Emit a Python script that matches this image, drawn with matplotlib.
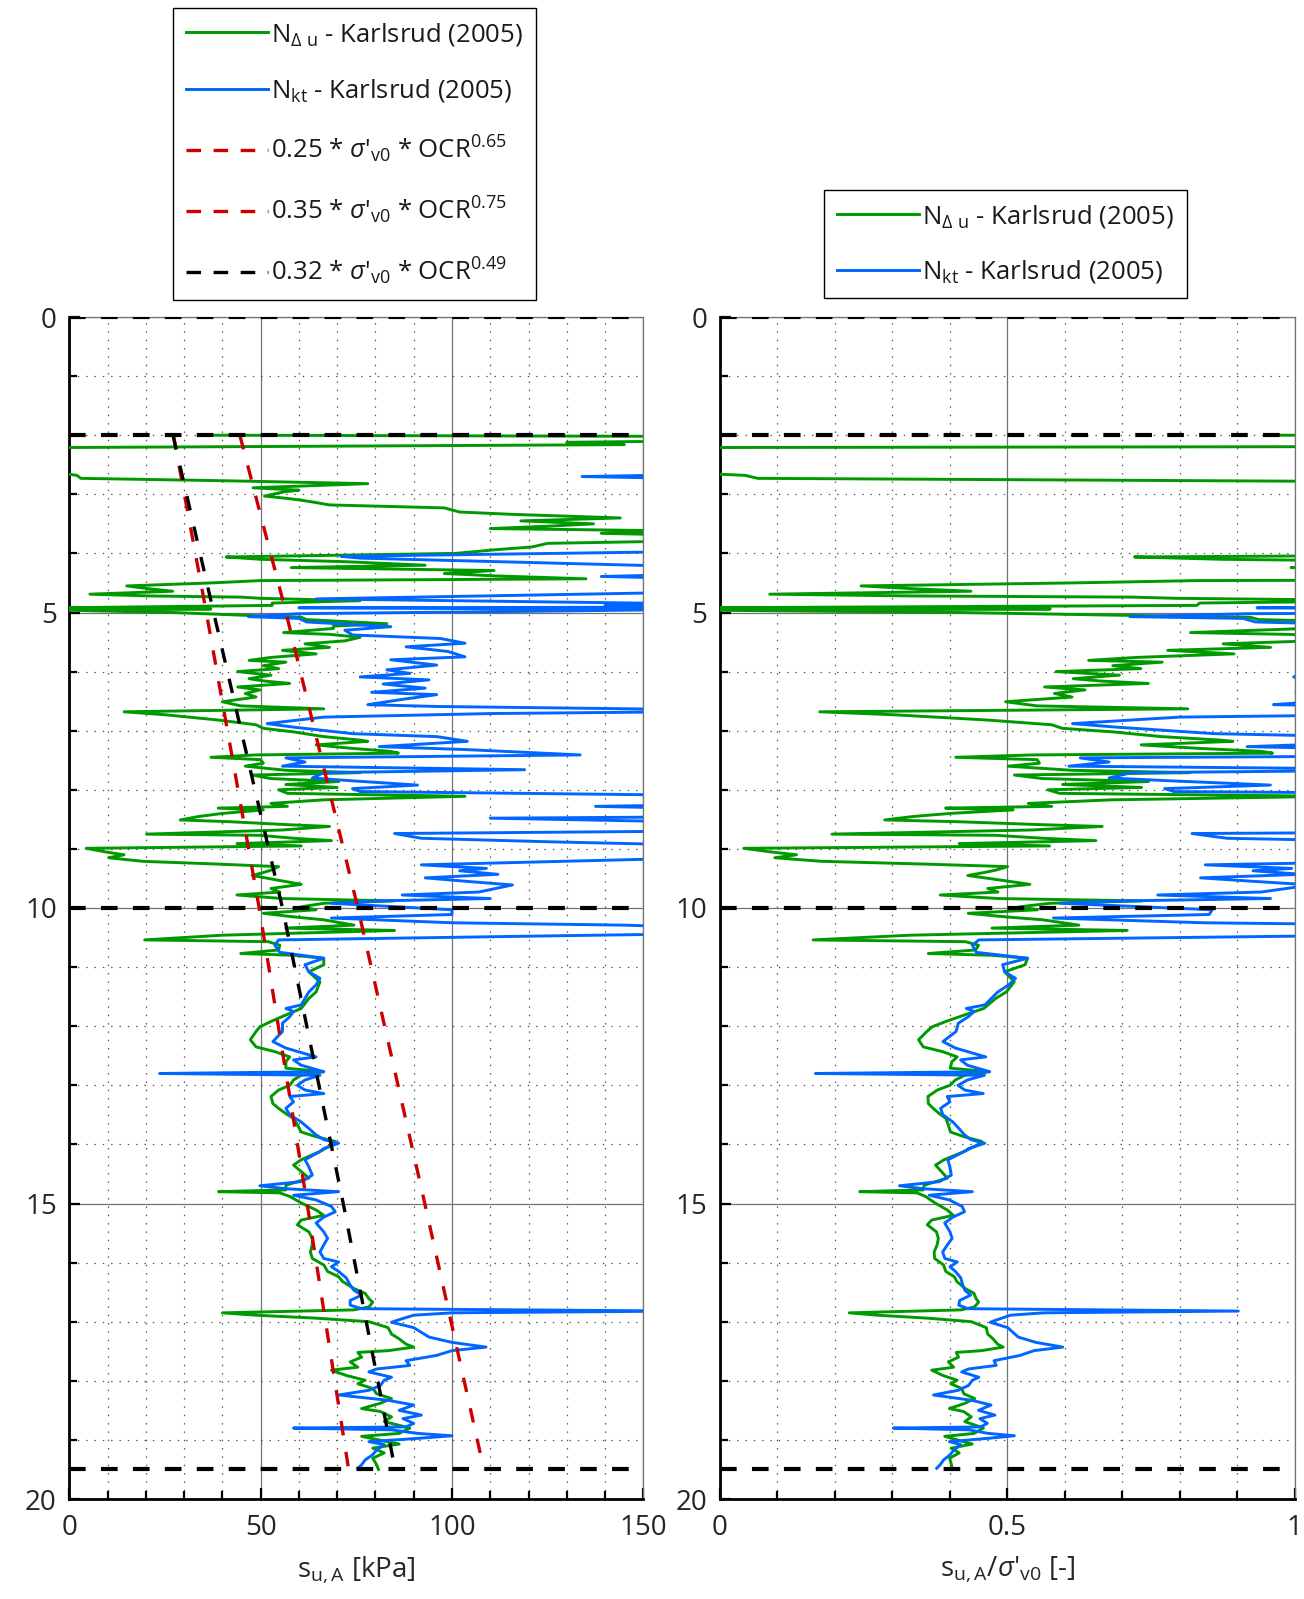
import numpy as np
import matplotlib
matplotlib.use("Agg")
import matplotlib.pyplot as plt
from matplotlib import font_manager
from matplotlib.ticker import MultipleLocator
from matplotlib.lines import Line2D

# ---------------------------------------------------------------- data
# Undrained shear strength from CPTU, N_du correlation (Karlsrud 2005)
depth_du = [2.00, 2.02, 2.10, 2.12, 2.16, 2.21, 2.64, 2.665, 2.68, 2.73, 2.77, 2.82,
            2.89, 2.93, 2.96, 3.03, 3.07, 3.10, 3.14, 3.18, 3.23, 3.30, 3.34, 3.40,
            3.45, 3.50, 3.54, 3.58, 3.62, 3.66, 3.69, 3.79, 3.83, 3.89, 3.94, 4.00,
            4.06, 4.10, 4.14, 4.20, 4.24, 4.29, 4.34, 4.38, 4.43, 4.46, 4.50, 4.55,
            4.60, 4.64, 4.69, 4.72, 4.74, 4.76, 4.80, 4.84, 4.88, 4.92, 4.94, 4.96,
            5.00, 5.05, 5.08, 5.12, 5.19, 5.23, 5.27, 5.34, 5.37, 5.42, 5.48, 5.53,
            5.59, 5.64, 5.70, 5.76, 5.81, 5.84, 5.90, 5.95, 6.00, 6.06, 6.12, 6.16,
            6.20, 6.26, 6.31, 6.37, 6.43, 6.51, 6.58, 6.63, 6.68, 6.73, 6.82, 6.90,
            6.96, 7.02, 7.10, 7.16, 7.18, 7.24, 7.30, 7.35, 7.38, 7.41, 7.45, 7.49,
            7.55, 7.60, 7.67, 7.71, 7.75, 7.81, 7.86, 7.91, 7.96, 8.00, 8.06, 8.11,
            8.17, 8.23, 8.28, 8.31, 8.34, 8.40, 8.45, 8.51, 8.54, 8.59, 8.62, 8.68,
            8.75, 8.77, 8.82, 8.86, 8.91, 8.95, 8.99, 9.05, 9.10, 9.15, 9.21, 9.26,
            9.30, 9.36, 9.40, 9.45, 9.53, 9.60, 9.67, 9.73, 9.78, 9.84, 9.88, 9.92,
            9.98, 10.03, 10.09, 10.15, 10.20, 10.29, 10.34, 10.38, 10.46, 10.54, 10.57, 10.63,
            10.71, 10.77, 10.80, 10.85, 10.96, 11.08, 11.25, 11.42, 11.53, 11.70, 11.81, 11.92,
            12.01, 12.09, 12.23, 12.35, 12.43, 12.52, 12.60, 12.71, 12.77, 12.83, 12.91, 13.00,
            13.08, 13.19, 13.31, 13.39, 13.48, 13.56, 13.67, 13.79, 13.87, 13.95, 14.01, 14.12,
            14.26, 14.35, 14.46, 14.57, 14.69, 14.77, 14.80, 14.82, 14.88, 14.99, 15.11, 15.20,
            15.28, 15.36, 15.48, 15.59, 15.70, 15.82, 15.93, 16.04, 16.15, 16.24, 16.32, 16.44,
            16.52, 16.61, 16.67, 16.75, 16.80, 16.85, 16.89, 16.94, 17.00, 17.06, 17.10, 17.21,
            17.29, 17.38, 17.43, 17.49, 17.52, 17.60, 17.68, 17.77, 17.82, 17.91, 17.99, 18.05,
            18.13, 18.22, 18.30, 18.38, 18.47, 18.52, 18.61, 18.69, 18.80, 18.89, 18.94, 19.02,
            19.07, 19.14, 19.22, 19.31, 19.42, 19.50]
su_du = [38, 160, 160, 130, 145, -5, -5, 0.5, 2, 3, 40, 78,
         48, 60, 56, 51, 57, 60.6, 64.5, 68, 98, 102, 116, 144,
         118, 137, 125, 110, 160, 139, 160, 160, 125, 121, 111, 101,
         41, 50, 72, 93, 58, 111, 98, 111, 135, 50, 37, 15,
         21, 27, 5.4, 21, 45, 50, 76, 53, 53, -2, 37, -2,
         27, 47, 60.6, 62, 83, 69, 69, 56, 68, 76, 72, 61.6,
         68, 55.7, 64.5, 52.7, 47, 56.6, 50.7, 54.7, 44, 52.7, 47, 51,
         57.6, 44, 49.8, 46, 48.8, 40, 44.8, 66.5, 14.3, 25, 39, 48.8,
         50.7, 58.6, 66.5, 76, 78, 64.5, 74, 84, 86, 48.8, 37, 50,
         50.7, 46, 56.6, 76, 47.8, 52.7, 70.4, 56.6, 70, 54.7, 57, 103.4,
         66.5, 52.7, 57, 38.9, 50.7, 40, 34, 29, 42, 57, 68, 55.7,
         20.2, 49.8, 58.6, 68.5, 43.8, 60.6, 4.4, 9.4, 14.3, 10.3, 19.2, 40,
         54.7, 52.7, 50.7, 47.8, 54.7, 60.6, 52.7, 55, 43.8, 55.7, 84.7, 66.5,
         60.6, 64.5, 50.7, 58.6, 66.5, 74.4, 56.6, 85, 40, 19.7, 52, 55,
         54.7, 44.8, 58.6, 66.5, 66.5, 62.6, 65.5, 64.5, 62.6, 60.6, 56.6, 52.7,
         49.8, 48.8, 47.3, 48.8, 53.7, 57.6, 56.6, 56.6, 66.5, 60.6, 58.6, 57.6,
         54.7, 52.7, 53.2, 54.7, 56.6, 58.6, 59.6, 60.6, 64.5, 69.5, 68.5, 65.5,
         60.6, 58.6, 60.6, 62.6, 56.6, 56.6, 39, 55, 57.6, 60.6, 64.5, 66.5,
         60.6, 59.6, 62.6, 63.5, 63.5, 63, 63.5, 66.5, 67.5, 70.4, 71.4, 74.4,
         77.3, 78.3, 79.3, 78.3, 74.4, 40, 48.8, 64.5, 78.3, 81.3, 83.3, 84.2,
         86.2, 88, 90, 83.3, 75.4, 76.4, 73.4, 75.4, 68.5, 72.4, 77.3, 75.4,
         79.3, 80.3, 84.2, 81.3, 76.4, 81.3, 84.2, 82.3, 89, 86.2, 76.4, 82.3,
         86.2, 79.3, 82.3, 79.3, 80.3, 80.8]

# Undrained shear strength from CPTU, N_kt correlation (Karlsrud 2005)
depth_kt = [2.00, 2.67, 2.70, 2.73, 3.97, 4.05, 4.08, 4.22, 4.36, 4.39, 4.42, 4.66,
            4.77, 4.85, 4.88, 4.91, 4.92, 4.95, 4.98, 5.02, 5.07, 5.10, 5.16, 5.24,
            5.30, 5.38, 5.44, 5.52, 5.58, 5.66, 5.75, 5.80, 5.89, 5.97, 6.03, 6.09,
            6.14, 6.21, 6.28, 6.35, 6.39, 6.47, 6.56, 6.59, 6.64, 6.68, 6.71, 6.77,
            6.88, 6.94, 7.05, 7.10, 7.18, 7.27, 7.32, 7.41, 7.46, 7.53, 7.60, 7.66,
            7.71, 7.80, 7.85, 7.92, 7.98, 8.03, 8.09, 8.26, 8.28, 8.31, 8.46, 8.48,
            8.54, 8.70, 8.74, 8.82, 8.88, 8.93, 9.16, 9.27, 9.33, 9.37, 9.43, 9.49,
            9.55, 9.61, 9.73, 9.78, 9.84, 9.88, 9.92, 10.03, 10.11, 10.17, 10.25, 10.29,
            10.32, 10.44, 10.46, 10.54, 10.63, 10.75, 10.85, 10.96, 11.08, 11.19, 11.30, 11.42,
            11.53, 11.64, 11.70, 11.75, 11.84, 11.95, 12.09, 12.26, 12.37, 12.52, 12.57, 12.66,
            12.77, 12.80, 12.83, 12.91, 13.00, 13.08, 13.14, 13.19, 13.28, 13.39, 13.50, 13.62,
            13.73, 13.84, 13.92, 13.98, 14.07, 14.12, 14.26, 14.38, 14.52, 14.63, 14.70, 14.75,
            14.80, 14.86, 14.94, 15.05, 15.14, 15.23, 15.33, 15.48, 15.59, 15.70, 15.82, 15.93,
            15.99, 16.07, 16.15, 16.26, 16.38, 16.47, 16.55, 16.64, 16.72, 16.78, 16.82, 16.85,
            16.89, 16.97, 17.01, 17.10, 17.18, 17.26, 17.35, 17.43, 17.49, 17.57, 17.66, 17.74,
            17.80, 17.85, 17.94, 17.99, 18.08, 18.16, 18.24, 18.33, 18.41, 18.50, 18.58, 18.64,
            18.72, 18.78, 18.80, 18.83, 18.89, 18.93, 18.97, 19.03, 19.08, 19.17, 19.25, 19.34,
            19.42, 19.48]
su_kt = [160, 160, 134, 160, 160, 71, 76, 160, 160, 139, 160, 160,
         64.5, 160, 140, 160, 60, 160, 120, 60, 46.8, 60, 62, 84,
         72, 74, 97, 103.4, 88, 99, 103.4, 84, 96, 83, 89, 76,
         94, 82, 93, 79, 96, 87, 78, 96, 160, 160, 110, 66.5,
         51.7, 58.6, 74, 96, 104, 81, 104, 133.5, 56.6, 61.6, 55.7, 119,
         66.5, 63.5, 74.4, 91, 74, 76, 160, 160, 137.5, 160, 160, 110,
         160, 160, 85, 92, 125.6, 160, 160, 92, 109, 102, 112, 93,
         104, 115.8, 107, 87, 110, 81, 68.5, 100, 100, 68.5, 100, 145,
         160, 160, 138, 54.7, 53.7, 55, 66.5, 61.6, 62.6, 65.5, 64.5, 62.6,
         61.6, 60.6, 56.6, 58.6, 57.6, 55.7, 55.7, 53.2, 56.6, 64.5, 58.6, 60.6,
         66.5, 23.6, 65.5, 61.6, 59.6, 61.6, 66.5, 57.6, 58.6, 56.6, 57.6, 60.6,
         62.6, 64.5, 66.5, 70.4, 66.5, 65.5, 61.6, 62.6, 63.5, 60.6, 49.8, 56.6,
         70.4, 58.6, 64.5, 68.5, 69.5, 66.5, 64.5, 66.5, 67.5, 66.5, 65.5, 66.5,
         70.4, 68.5, 70.4, 72.4, 73.4, 74.4, 76.4, 73.4, 73.4, 76.4, 160, 100,
         90, 86, 84.2, 90, 92, 94, 100, 108.9, 100, 96, 88, 89,
         80.3, 78.3, 84.2, 82.3, 81.3, 78.3, 70.4, 83.3, 90, 86.2, 92, 87.2,
         90, 88, 58.6, 84.2, 91, 100, 92, 78.3, 82.3, 80.3, 79.3, 77.3,
         76.4, 75.4]

# Stress history profile used for the empirical strength lines
profile_depth = [2.0, 5.0, 10.0, 15.0, 19.5]
sigma_v0 = [39.2, 64.9, 116.5, 162.1, 200.0]   # effective vertical stress [kPa]
ocr = [4.81, 3.38, 2.27, 1.93, 1.79]

# SHANSEP-type correlations: su = a * sigma'v0 * OCR^m
shansep_a = [0.25, 0.35, 0.32]
shansep_m = [0.65, 0.75, 0.49]

# Layer boundaries
layer_depths = [0.0, 2.0, 10.0, 19.5]

# ---------------------------------------------------------------- style
GREEN = (0.0, 0.6, 0.0)
BLUE = (0.0, 0.4, 1.0)
RED = (0.8, 0.0, 0.0)
LW_DATA = 2.1

names = {f.name for f in font_manager.fontManager.ttflist}
narrow = "Liberation Sans Narrow" if "Liberation Sans Narrow" in names else "Open Sans"
tick_size = 23.5 if narrow == "Liberation Sans Narrow" else 20

plt.rcParams["font.family"] = ["Open Sans", "DejaVu Sans"]
plt.rcParams["mathtext.fontset"] = "custom"
plt.rcParams["mathtext.rm"] = "Open Sans"
plt.rcParams["mathtext.it"] = "Open Sans:italic"
plt.rcParams["mathtext.default"] = "regular"
plt.rcParams["lines.scale_dashes"] = False

fig = plt.figure(figsize=(13.04, 15.99), dpi=100)
W, H = 1304.0, 1599.0
ax_bottom = 1 - 1499 / H
ax_height = (1499 - 317) / H
ax1 = fig.add_axes([69.3 / W, ax_bottom, 574 / W, ax_height])
ax2 = fig.add_axes([719.8 / W, ax_bottom, 575 / W, ax_height])

d_du = np.array(depth_du)
d_kt = np.array(depth_kt)
s_du = np.array(su_du)
s_kt = np.array(su_kt)
pd_ = np.array(profile_depth)
sig = np.array(sigma_v0)
oc = np.array(ocr)

# strength profiles
ax1.plot(s_du, d_du, color=GREEN, lw=LW_DATA, zorder=3)
ax1.plot(s_kt, d_kt, color=BLUE, lw=LW_DATA, zorder=3)
line_colors = [RED, RED, "black"]
for a, m, c in zip(shansep_a, shansep_m, line_colors):
    ax1.plot(a * sig * oc ** m, pd_, color=c, lw=2.4, dashes=(10.5, 12), zorder=4)

# normalised strength
ax2.plot(s_du / np.interp(d_du, pd_, sig), d_du, color=GREEN, lw=LW_DATA, zorder=3)
ax2.plot(s_kt / np.interp(d_kt, pd_, sig), d_kt, color=BLUE, lw=LW_DATA, zorder=3)

for ax, xmax, major, minor in [(ax1, 150, 50, 10), (ax2, 1.0, 0.5, 0.1)]:
    for yd in layer_depths:
        ax.axhline(yd, color="black", lw=3.0, dashes=(12, 11), zorder=5)
    ax.set_xlim(0, xmax)
    ax.set_ylim(20, 0)
    ax.xaxis.set_major_locator(MultipleLocator(major))
    ax.xaxis.set_minor_locator(MultipleLocator(minor))
    ax.yaxis.set_major_locator(MultipleLocator(5))
    ax.yaxis.set_minor_locator(MultipleLocator(1))
    ax.grid(which="major", color="0.45", lw=0.9, zorder=1)
    ax.grid(which="minor", color="0.3", lw=0.9, dashes=(1.0, 5.0), zorder=1)
    ax.set_axisbelow(True)
    ax.tick_params(which="both", direction="in", top=False, right=False,
                   width=1.6, colors="black", labelsize=tick_size)
    ax.tick_params(which="major", length=8)
    ax.tick_params(which="minor", length=6)
    ax.tick_params(axis="y", pad=9)
    ax.tick_params(axis="x", pad=11)
    for lab in ax.get_xticklabels() + ax.get_yticklabels():
        lab.set_family([narrow, "DejaVu Sans"])
        lab.set_color("0.15")
    ax.spines["left"].set_linewidth(2.0)
    ax.spines["bottom"].set_linewidth(2.0)
    ax.spines["top"].set_color("0.45")
    ax.spines["right"].set_color("0.45")
    ax.spines["top"].set_linewidth(0.9)
    ax.spines["right"].set_linewidth(0.9)

ax2.set_xticks([0, 0.5, 1.0])
ax2.set_xticklabels(["0", "0.5", "1"])
for lab in ax2.get_xticklabels():
    lab.set_family([narrow, "DejaVu Sans"])
    lab.set_fontsize(tick_size)
    lab.set_color("0.15")

lab_kw = dict(fontsize=tick_size, family=[narrow, "DejaVu Sans"], color="0.15", va="top")
ax1.set_xlabel(r"s$_{u,A}$ [kPa]", **lab_kw)
ax2.set_xlabel(r"s$_{u,A}$/$\mathit{\sigma}$'$_{v0}$ [-]", **lab_kw)
ax1.xaxis.set_label_coords(0.5, -0.047)
ax2.xaxis.set_label_coords(0.5, -0.047)

# legends
lbl_du = r"N$_{\Delta\ u}$ - Karlsrud (2005)"
lbl_kt = r"N$_{kt}$ - Karlsrud (2005)"
h_du = Line2D([], [], color=GREEN, lw=LW_DATA)
h_kt = Line2D([], [], color=BLUE, lw=LW_DATA)
h_r1 = Line2D([], [], color=RED, lw=2.4, dashes=(10.5, 9))
h_r2 = Line2D([], [], color=RED, lw=2.4, dashes=(10.5, 9))
h_bk = Line2D([], [], color="black", lw=2.4, dashes=(10.5, 9))
eq_labels = [r"%.2f * $\mathit{\sigma}$'$_{v0}$ * OCR$^{%.2f}$" % (a, m)
             for a, m in zip(shansep_a, shansep_m)]

leg_kw = dict(fontsize=18.5, frameon=True, fancybox=False, edgecolor="black",
              framealpha=1.0, handlelength=3.2, handletextpad=0.12,
              borderpad=0.5, borderaxespad=0.0, loc="upper left")
leg1 = fig.legend([h_du, h_kt, h_r1, h_r2, h_bk], [lbl_du, lbl_kt] + eq_labels,
                  bbox_to_anchor=(173 / W, 1 - 8 / H), labelspacing=1.15, **leg_kw)
leg2 = fig.legend([h_du, h_kt], [lbl_du, lbl_kt],
                  bbox_to_anchor=(824 / W, 1 - 190 / H), labelspacing=1.1, **leg_kw)
for lg in (leg1, leg2):
    lg.get_frame().set_linewidth(1.0)
    for t in lg.get_texts():
        t.set_color("0.1")

fig.savefig("out.png", dpi=100)
